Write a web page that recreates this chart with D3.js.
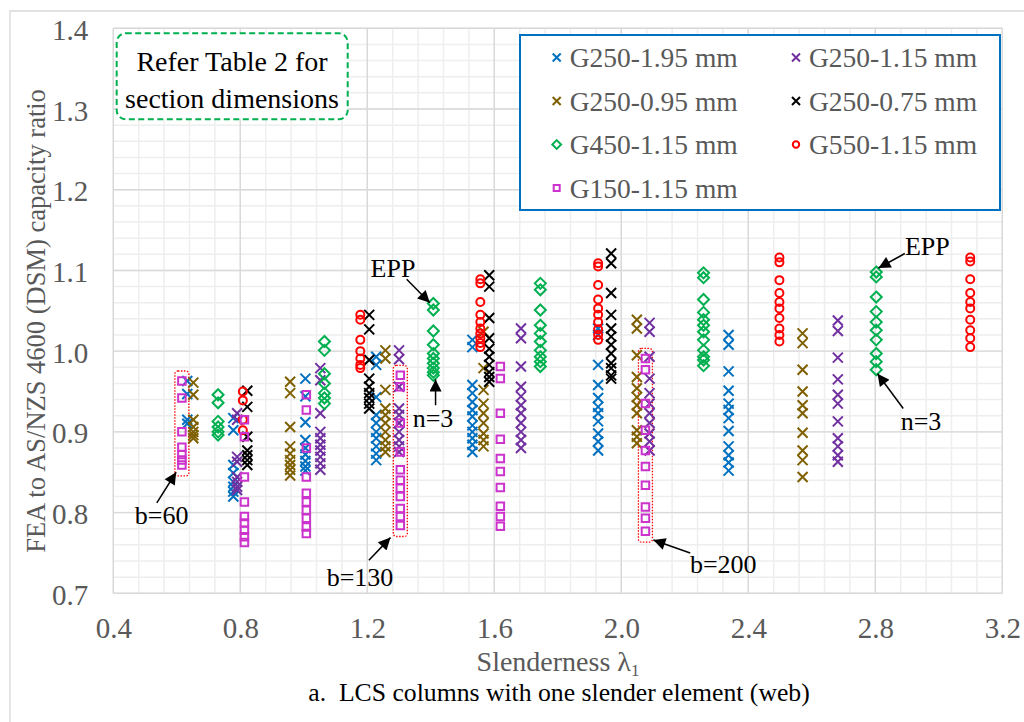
<!DOCTYPE html>
<html>
<head>
<meta charset="utf-8">
<script src="https://cdn.jsdelivr.net/npm/d3@7"></script>
<style>
  body { margin: 0; background: #fff; }
  svg { display: block; font-family: "Liberation Serif", "Times New Roman", serif; }
  text { white-space: pre; }
</style>
</head>
<body>
<svg id="chart" width="1024" height="722"></svg>
<script>
// ---- Data: each series is a list of [slenderness, [capacity ratios]] columns ----
const seriesNames = ["G250-1.95 mm", "G250-1.15 mm", "G250-0.95 mm", "G250-0.75 mm",
                     "G450-1.15 mm", "G550-1.15 mm", "G150-1.15 mm"];

const g250_195 = [
  [0.633, [0.963, 0.947, 0.915, 0.910]],
  [0.778, [0.917, 0.902, 0.859, 0.849, 0.838, 0.832, 0.826, 0.820]],
  [1.005, [0.966, 0.944, 0.912, 0.890, 0.880, 0.872, 0.864, 0.857, 0.852]],
  [1.228, [0.993, 0.983, 0.943, 0.921, 0.911, 0.900, 0.892, 0.882, 0.873, 0.865]],
  [1.531, [1.014, 1.005, 0.958, 0.948, 0.937, 0.927, 0.919, 0.908, 0.900, 0.892, 0.884, 0.875]],
  [1.927, [1.028, 1.020, 0.983, 0.958, 0.942, 0.931, 0.923, 0.913, 0.898, 0.888, 0.877]],
  [2.338, [1.020, 1.008, 0.975, 0.951, 0.935, 0.927, 0.917, 0.901, 0.882, 0.871, 0.862, 0.852]]
];
const g250_115 = [
  [0.790, [0.923, 0.915, 0.869, 0.863, 0.844, 0.838, 0.832, 0.828]],
  [1.052, [0.979, 0.964, 0.923, 0.900, 0.892, 0.884, 0.877, 0.869, 0.861, 0.853]],
  [1.300, [1.001, 0.990, 0.956, 0.929, 0.921, 0.911, 0.900, 0.890, 0.882, 0.875]],
  [1.684, [1.028, 1.016, 0.981, 0.956, 0.944, 0.933, 0.923, 0.911, 0.900, 0.890, 0.880]],
  [2.089, [1.035, 1.024, 0.993, 0.966, 0.948, 0.935, 0.923, 0.911, 0.898, 0.888, 0.877]],
  [2.682, [1.038, 1.025, 0.992, 0.965, 0.946, 0.935, 0.913, 0.892, 0.882, 0.871, 0.863]]
];
const g250_095 = [
  [0.652, [0.961, 0.946, 0.915, 0.906, 0.900, 0.896, 0.892]],
  [0.957, [0.962, 0.948, 0.906, 0.882, 0.873, 0.865, 0.859, 0.853, 0.846]],
  [1.257, [1.001, 0.991, 0.952, 0.929, 0.921, 0.911, 0.900, 0.890, 0.882, 0.875]],
  [1.566, [1.024, 0.979, 0.952, 0.935, 0.923, 0.911, 0.898, 0.890, 0.882]],
  [2.049, [1.039, 1.028, 0.995, 0.968, 0.954, 0.943, 0.933, 0.923, 0.902, 0.894, 0.886]],
  [2.571, [1.022, 1.010, 0.977, 0.950, 0.933, 0.923, 0.899, 0.877, 0.865, 0.844]]
];
const g250_075 = [
  [0.822, [0.951, 0.931, 0.894, 0.877, 0.871, 0.865, 0.859]],
  [1.206, [1.045, 1.027, 0.989, 0.966, 0.956, 0.948, 0.942, 0.935, 0.929]],
  [1.584, [1.094, 1.080, 1.041, 1.016, 1.003, 0.993, 0.983, 0.974, 0.968, 0.962]],
  [1.968, [1.121, 1.109, 1.072, 1.045, 1.028, 1.018, 1.008, 0.997, 0.985, 0.979, 0.970, 0.966]]
];
const g450_115 = [
  [0.730, [0.946, 0.936, 0.913, 0.906, 0.900, 0.896]],
  [1.065, [1.012, 1.001, 0.972, 0.960, 0.948, 0.942, 0.935]],
  [1.408, [1.059, 1.051, 1.025, 1.008, 0.997, 0.991, 0.985, 0.979, 0.974, 0.970]],
  [1.745, [1.084, 1.076, 1.051, 1.032, 1.022, 1.012, 1.001, 0.993, 0.987, 0.981]],
  [2.259, [1.097, 1.091, 1.064, 1.048, 1.039, 1.032, 1.024, 1.014, 1.001, 0.993, 0.989, 0.982]],
  [2.803, [1.098, 1.092, 1.067, 1.049, 1.036, 1.026, 1.014, 0.997, 0.987, 0.977]]
];
const g550_115 = [
  [0.808, [0.950, 0.939, 0.915, 0.902]],
  [1.178, [1.045, 1.039, 1.014, 1.000, 0.991, 0.983, 0.979]],
  [1.556, [1.089, 1.084, 1.061, 1.045, 1.036, 1.028, 1.022, 1.016, 1.010, 1.005]],
  [1.927, [1.109, 1.105, 1.082, 1.064, 1.053, 1.045, 1.036, 1.027, 1.020, 1.014]],
  [2.498, [1.116, 1.110, 1.088, 1.072, 1.061, 1.053, 1.041, 1.028, 1.020, 1.012]],
  [3.099, [1.116, 1.111, 1.089, 1.072, 1.061, 1.053, 1.039, 1.026, 1.016, 1.005]]
];
const g150_115 = [
  [0.616, [0.963, 0.942, 0.900, 0.881, 0.872, 0.865, 0.859]],
  [0.813, [0.915, 0.894, 0.844, 0.813, 0.795, 0.787, 0.778, 0.770, 0.763]],
  [1.008, [0.946, 0.927, 0.880, 0.844, 0.824, 0.813, 0.803, 0.793, 0.782, 0.774]],
  [1.304, [0.970, 0.956, 0.911, 0.875, 0.853, 0.840, 0.830, 0.820, 0.805, 0.795, 0.784]],
  [1.619, [0.981, 0.966, 0.923, 0.891, 0.867, 0.851, 0.831, 0.808, 0.795, 0.783]],
  [2.076, [0.991, 0.977, 0.935, 0.902, 0.877, 0.857, 0.834, 0.807, 0.793, 0.777]]
];

const xTicks = [0.4, 0.8, 1.2, 1.6, 2.0, 2.4, 2.8, 3.2];
const yTicks = [0.7, 0.8, 0.9, 1.0, 1.1, 1.2, 1.3, 1.4];

// Width labels for highlighted G150 columns (index into g150_115)
const widthLabels = [[0, "b=60"], [3, "b=130"], [5, "b=200"]];

// ---- Styles ----
const seriesData = [g250_195, g250_115, g250_095, g250_075, g450_115, g550_115, g150_115];
const seriesColor = ["#0070C0", "#7030A0", "#7F6000", "#000000", "#00B050", "#FF0000", "#CC33CC"];
const seriesShape = ["cross", "cross", "cross", "cross", "diamond", "circle", "square"];

const svg = d3.select("#chart");
const x = d3.scaleLinear().domain([0.4, 3.2]).range([113.3, 1002.3]);
const y = d3.scaleLinear().domain([0.7, 1.4]).range([593.3, 28.3]);

// Outer chart frame
svg.append("path").attr("d", "M10,722V11H1024")
  .attr("fill", "none").attr("stroke", "#d9d9d9").attr("stroke-width", 1.3);

// Gridlines
const grid = svg.append("g");
const minorX = d3.range(0, 36).map(i => 0.4 + i * 0.08);
const minorY = d3.range(0, 36).map(i => 0.7 + i * 0.02);
grid.selectAll(".mx").data(minorX).join("line")
  .attr("x1", d => x(d)).attr("x2", d => x(d)).attr("y1", y(0.7)).attr("y2", y(1.4))
  .attr("stroke", "#eeeeee").attr("stroke-width", 1.5);
grid.selectAll(".my").data(minorY).join("line")
  .attr("y1", d => y(d)).attr("y2", d => y(d)).attr("x1", x(0.4)).attr("x2", x(3.2))
  .attr("stroke", "#eeeeee").attr("stroke-width", 1.5);
grid.selectAll(".Mx").data(xTicks).join("line")
  .attr("x1", d => x(d)).attr("x2", d => x(d)).attr("y1", y(0.7)).attr("y2", y(1.4))
  .attr("stroke", "#d9d9d9").attr("stroke-width", 1.4);
grid.selectAll(".My").data(yTicks).join("line")
  .attr("y1", d => y(d)).attr("y2", d => y(d)).attr("x1", x(0.4)).attr("x2", x(3.2))
  .attr("stroke", "#d9d9d9").attr("stroke-width", 1.4);

// Axes (labels only)
const xAxis = svg.append("g").attr("transform", `translate(0,${y(0.7)})`)
  .call(d3.axisBottom(x).tickValues(xTicks).tickFormat(d3.format(".1f")).tickSize(0));
const yAxis = svg.append("g").attr("transform", `translate(${x(0.4)},0)`)
  .call(d3.axisLeft(y).tickValues(yTicks).tickFormat(d3.format(".1f")).tickSize(0).tickPadding(25));
[xAxis, yAxis].forEach(a => {
  a.select(".domain").remove();
  a.selectAll("text").attr("fill", "#595959").style("font-size", "29px")
    .style("font-family", "'Liberation Serif','Times New Roman',serif");
});
xAxis.selectAll("text").attr("y", 45).attr("dy", null);
yAxis.selectAll("text").attr("dy", "0.38em");

// Axis titles and caption
svg.append("text").attr("transform", "translate(45,321) rotate(-90)")
  .attr("text-anchor", "middle").attr("fill", "#595959").style("font-size", "26.5px")
  .text("FEA to AS/NZS 4600 (DSM) capacity ratio");
const xt = svg.append("text").attr("x", 558).attr("y", 671)
  .attr("text-anchor", "middle").attr("fill", "#595959").style("font-size", "28px");
xt.append("tspan").text("Slenderness λ");
xt.append("tspan").attr("dy", 5).style("font-size", "17px").text("1");
svg.append("text").attr("x", 559).attr("y", 701).attr("text-anchor", "middle")
  .attr("fill", "#000").style("font-size", "25.7px")
  .text("a.  LCS columns with one slender element (web)");

// Marker shapes
function shapePath(kind, s) {
  if (kind === "cross") return `M${-s},${-s}L${s},${s}M${-s},${s}L${s},${-s}`;
  if (kind === "diamond") { const d = s * 1.1; return `M0,${-d}L${d},0L0,${d}L${-d},0Z`; }
  const q = s * 0.75; return `M${-q},${-q}H${q}V${q}H${-q}Z`;
}
function drawMarker(g, kind, color, s) {
  if (kind === "circle") {
    g.append("circle").attr("r", s * 0.8).attr("fill", "none")
      .attr("stroke", color).attr("stroke-width", 2);
  } else {
    g.append("path").attr("d", shapePath(kind, s)).attr("fill", "none")
      .attr("stroke", color).attr("stroke-width", 2);
  }
}

// Highlight boxes around selected G150 columns (drawn beneath the markers)
const boxes = svg.append("g");
widthLabels.forEach(([i]) => {
  const [lam, vals] = g150_115[i];
  const top = y(d3.max(vals)) - 10, bot = y(d3.min(vals)) + 11;
  boxes.append("rect").attr("x", x(lam) - 7).attr("y", top)
    .attr("width", 14).attr("height", bot - top).attr("rx", 3)
    .attr("fill", "none").attr("stroke", "#FF0000").attr("stroke-width", 1.3)
    .attr("stroke-dasharray", "1.5,1.5");
});

// Points
const plot = svg.append("g");
seriesData.forEach((cols, si) => {
  const pts = cols.flatMap(([lam, vals]) => vals.map(v => [lam, v]));
  plot.append("g").selectAll("g").data(pts).join("g")
    .attr("transform", d => `translate(${x(d[0])},${y(d[1])})`)
    .each(function () { drawMarker(d3.select(this), seriesShape[si], seriesColor[si], 5); });
});

// Annotations
const defs = svg.append("defs");
defs.append("marker").attr("id", "ah").attr("viewBox", "0 0 10 10")
  .attr("refX", 10).attr("refY", 5).attr("markerWidth", 16).attr("markerHeight", 12)
  .attr("markerUnits", "userSpaceOnUse").attr("orient", "auto")
  .append("path").attr("d", "M0,0L10,5L0,10Z").attr("fill", "#000");

const notes = [
  { t: "b=60",  tx: 0.552, ty: 0.797, from: [0.537, 0.812], to: [0.598, 0.850] },
  { t: "b=130", tx: 1.177, ty: 0.720, from: [1.205, 0.741], to: [1.273, 0.769] },
  { t: "b=200", tx: 2.321, ty: 0.737, from: [2.217, 0.750], to: [2.101, 0.766] },
  { t: "EPP",   tx: 1.281, ty: 1.103, from: [1.324, 1.089], to: [1.397, 1.060] },
  { t: "n=3",   tx: 1.407, ty: 0.917, from: [1.415, 0.933], to: [1.415, 0.965] },
  { t: "EPP",   tx: 2.964, ty: 1.131, from: [2.893, 1.121], to: [2.810, 1.103] },
  { t: "n=3",   tx: 2.944, ty: 0.913, from: [2.888, 0.929], to: [2.807, 0.972] }
];
const ann = svg.append("g");
notes.forEach(n => {
  ann.append("line").attr("x1", x(n.from[0])).attr("y1", y(n.from[1]))
    .attr("x2", x(n.to[0])).attr("y2", y(n.to[1]))
    .attr("stroke", "#000").attr("stroke-width", 1.5).attr("marker-end", "url(#ah)");
  ann.append("text").attr("x", x(n.tx)).attr("y", y(n.ty)).attr("dy", "0.35em")
    .attr("text-anchor", "middle").attr("fill", "#000").style("font-size", "26px").text(n.t);
});

// Note box
const nb = svg.append("g");
nb.append("rect").attr("x", 116.7).attr("y", 33.3).attr("width", 231).attr("height", 86)
  .attr("rx", 9).attr("fill", "#fff").attr("stroke", "#00B050").attr("stroke-width", 2)
  .attr("stroke-dasharray", "6,3.5");
["Refer Table 2 for", "section dimensions"].forEach((s, i) => {
  nb.append("text").attr("x", 232).attr("y", 71 + i * 37).attr("text-anchor", "middle")
    .attr("fill", "#000").style("font-size", "28px").text(s);
});

// Legend
const lg = svg.append("g");
lg.append("rect").attr("x", 520).attr("y", 35).attr("width", 480).attr("height", 175)
  .attr("fill", "#fff").attr("stroke", "#0070C0").attr("stroke-width", 2);
seriesNames.forEach((name, i) => {
  const col = i % 2, row = Math.floor(i / 2);
  const mx = col ? 796 : 556.7, cy = 57.5 + row * 43.5;
  const g = lg.append("g").attr("transform", `translate(${mx},${cy})`);
  drawMarker(g, seriesShape[i], seriesColor[i], 4);
  lg.append("text").attr("x", mx + 13).attr("y", cy + 9.5).attr("fill", "#595959")
    .style("font-size", "27.5px").text(name);
});
</script>
</body>
</html>
